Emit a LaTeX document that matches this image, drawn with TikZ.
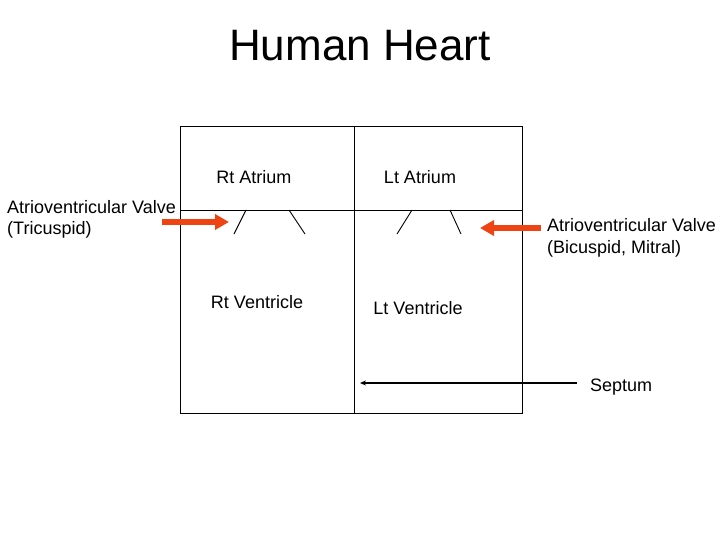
\documentclass[tikz,border=0pt]{standalone}
\usepackage{fontspec}
\setmainfont{Liberation Sans}
\usetikzlibrary{arrows.meta}
\definecolor{arrowred}{RGB}{238,68,20}
\begin{document}
\begin{tikzpicture}[x=1pt,y=-1pt,
  lbl/.style={font=\fontsize{18}{21.6}\selectfont, inner sep=0pt},
  thinline/.style={line width=0.9pt},
  redarrow/.style={draw=arrowred, line width=6pt, -{Triangle[length=14pt,width=15pt]}},
  septarrow/.style={line width=1.8pt, -{Stealth[length=6pt,width=5pt]}}]
\useasboundingbox (0,0) rectangle (720,540);
% title
\node[font=\fontsize{44}{50}\selectfont, inner sep=0pt] (title) at (360,46) {Human Heart};
% heart box
\coordinate (tl) at (180,126);
\coordinate (br) at (522,413);
\draw[thinline] (tl) rectangle (br);
\draw[thinline] (354,126) coordinate (septtop) -- (354,413) coordinate (septbot);
\draw[thinline] (180,210) coordinate (avl) -- (522,210) coordinate (avr);
% valves
\draw[thinline] (246,210) -- (234,234);
\draw[thinline] (289,210) -- (305,234);
\draw[thinline] (412,210) -- (397,234);
\draw[thinline] (450,210) -- (461,234);
% chamber labels
\node[lbl] (ra) at (254,177) {Rt Atrium};
\node[lbl] (la) at (420,177) {Lt Atrium};
\node[lbl] (rv) at (257,302) {Rt Ventricle};
\node[lbl] (lv) at (418,308) {Lt Ventricle};
% side labels
\node[lbl, anchor=north west, align=left] (tric) at (7,200) {Atrioventricular Valve\\(Tricuspid)};
\node[lbl, anchor=north west, align=left] (mitral) at (547,218.5) {Atrioventricular Valve\\(Bicuspid, Mitral)};
\node[lbl, anchor=west] (sept) at (590,387) {Septum};
% arrows
\coordinate (ltail) at (162,222);
\coordinate (ltip) at (229,222);
\coordinate (rtail) at (541,228);
\coordinate (rtip) at (480,228);
\coordinate (stail) at (577,383);
\coordinate (stip) at (360,383);
\draw[redarrow] (ltail) -- (ltip);
\draw[redarrow] (rtail) -- (rtip);
\draw[septarrow] (stail) -- (stip);
\end{tikzpicture}
\end{document}
